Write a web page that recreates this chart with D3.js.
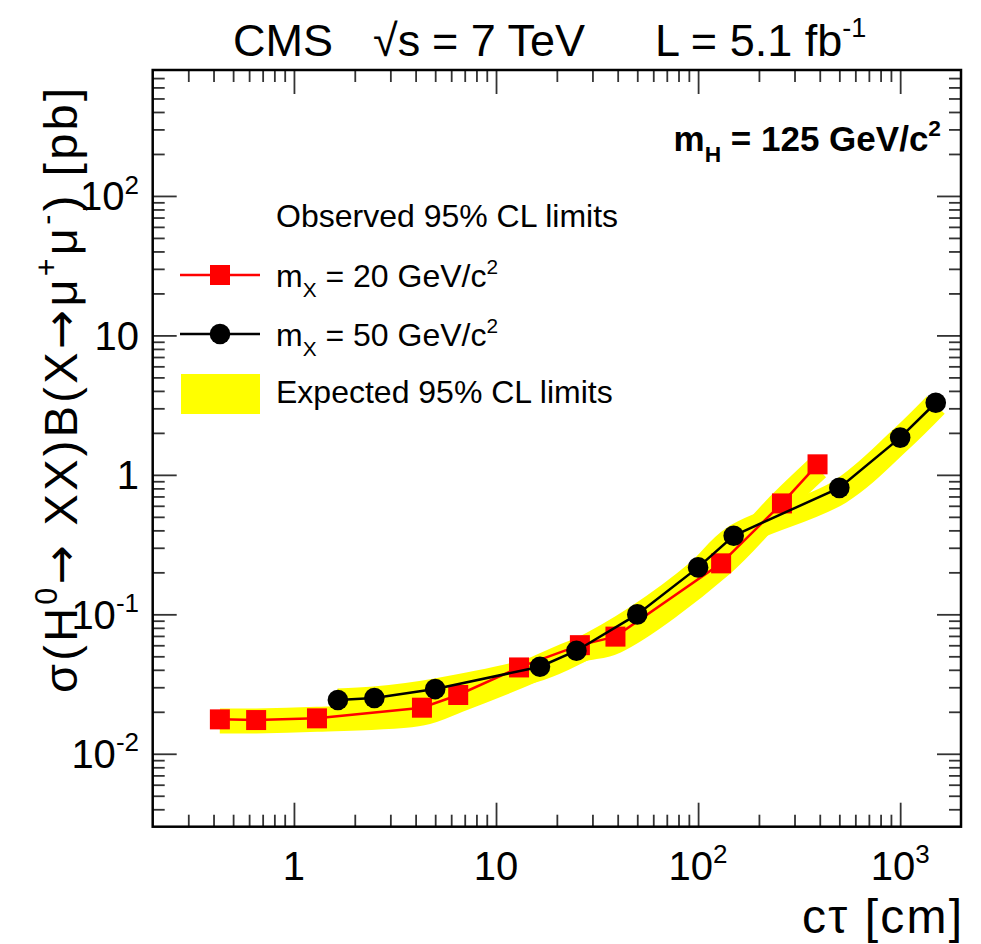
<!DOCTYPE html>
<html>
<head>
<meta charset="utf-8">
<script src="https://cdn.jsdelivr.net/npm/d3@7"></script>
<style>
body{margin:0;background:#fff}
text{font-family:"Liberation Sans",Arial,Helvetica,sans-serif;fill:#000;white-space:pre}
</style>
</head>
<body>
<svg width="981" height="944"></svg>
<script>
// m_X = 20 GeV
let ctau20 = [0.43, 0.65, 1.3, 4.3, 6.5, 13, 26, 39, 130, 260, 390];
let obs20  = [0.01765, 0.01745, 0.01795, 0.0214, 0.0264, 0.0416, 0.0601, 0.0692, 0.232, 0.624, 1.19];
let exp20  = [0.0172, 0.0172, 0.0177, 0.0196, 0.0243, 0.0361, 0.0554, 0.0643, 0.2255, 0.638, 1.118];

// m_X = 50 GeV
let ctau50 = [1.65, 2.5, 5, 16.5, 25, 50, 100, 150, 500, 1000, 1500];
let obs50  = [0.0243, 0.0251, 0.0291, 0.0421, 0.0548, 0.0999, 0.217, 0.366, 0.807, 1.85, 3.29];
let exp50  = [0.0239, 0.0247, 0.0282, 0.0412, 0.0536, 0.0955, 0.201, 0.352, 0.753, 1.776, 3.166];

let xTicks = [1, 10, 100, 1000];
let xTickLabels = [["1",""], ["10",""], ["10","2"], ["10","3"]];
let yTicks = [0.01, 0.1, 1, 10, 100];
let yTickLabels = [["10","-2"], ["10","-1"], ["1",""], ["10",""], ["10","2"]];

let fLeft=152.7, fRight=961, fTop=70, fBottom=826.7;

let svg = d3.select("svg");

let x = d3.scaleLog().domain([0.2, 2000]).range([fLeft, fRight]);
let y = d3.scaleLog().domain([0.003, 800]).range([fBottom, fTop]);

function minors(dom, majors){
    let out=[];
    for(let e=-3; e<=3; e++){
        for(let k=1; k<10; k++){
            let v = k*Math.pow(10,e);
            if(v>dom[0]*1.0001 && v<dom[1]*0.9999 && !majors.some(m=>Math.abs(m-v)/m<1e-6)) out.push(v);
        }
    }
    return out;
}
let xMinor = minors(x.domain(), xTicks);
let yMinor = minors(y.domain(), yTicks);

function tickAxis(axis, vals, size, tr){
    let g = svg.append("g").attr("transform", tr)
        .call(axis.tickValues(vals).tickSize(size).tickFormat(""));
    g.select(".domain").remove();
    g.selectAll(".tick line").attr("stroke", "#333").attr("stroke-width", 1.8);
}

// expected bands
let lineGen = d3.line().curve(d3.curveCatmullRom.alpha(0.5));
function band(cx, cy){
    svg.append("path")
        .attr("d", lineGen(cx.map((c,i)=>[x(c), y(cy[i])])))
        .attr("fill", "none")
        .attr("stroke", "#ffff00")
        .attr("stroke-width", 25)
        .attr("stroke-linejoin", "round");
}
band(ctau20, exp20);
band(ctau50, exp50);

// ticks, all inside the frame
tickAxis(d3.axisBottom(x), xMinor, -12, `translate(0,${fBottom})`);
tickAxis(d3.axisBottom(x), xTicks, -24, `translate(0,${fBottom})`);
tickAxis(d3.axisTop(x), xMinor, -12, `translate(0,${fTop})`);
tickAxis(d3.axisTop(x), xTicks, -24, `translate(0,${fTop})`);
tickAxis(d3.axisLeft(y), yMinor, -12, `translate(${fLeft},0)`);
tickAxis(d3.axisLeft(y), yTicks, -24, `translate(${fLeft},0)`);
tickAxis(d3.axisRight(y), yMinor, -12, `translate(${fRight},0)`);
tickAxis(d3.axisRight(y), yTicks, -24, `translate(${fRight},0)`);

svg.append("rect")
    .attr("x", fLeft).attr("y", fTop)
    .attr("width", fRight-fLeft).attr("height", fBottom-fTop)
    .attr("fill", "none").attr("stroke", "#000").attr("stroke-width", 2.5);

// observed lines + markers
let straight = d3.line();
svg.append("path")
    .attr("d", straight(ctau20.map((c,i)=>[x(c), y(obs20[i])])))
    .attr("fill", "none").attr("stroke", "#ff0000").attr("stroke-width", 2.5);
svg.append("g").selectAll("rect").data(ctau20.map((c,i)=>({c:c, v:obs20[i]})))
    .join("rect")
    .attr("x", d=>x(d.c)-10).attr("y", d=>y(d.v)-10)
    .attr("width", 20).attr("height", 20)
    .attr("fill", "#ff0000");

svg.append("path")
    .attr("d", straight(ctau50.map((c,i)=>[x(c), y(obs50[i])])))
    .attr("fill", "none").attr("stroke", "#000").attr("stroke-width", 2.5);
svg.append("g").selectAll("circle").data(ctau50.map((c,i)=>({c:c, v:obs50[i]})))
    .join("circle")
    .attr("cx", d=>x(d.c)).attr("cy", d=>y(d.v))
    .attr("r", 10.3)
    .attr("fill", "#000");

// text with sub/superscripts
function rich(sel, parts, fs, supScale){
    let sc = supScale || 0.7;
    let shift=0;
    parts.forEach(p=>{
        let target = p.sub ? fs*0.3 : (p.sup ? -fs*0.42 : 0);
        let ts = sel.append("tspan")
            .attr("dy", target-shift)
            .attr("font-size", (p.sub||p.sup) ? fs*sc : fs)
            .text(p.t);
        if(p.font) ts.style("font-family", p.font);
        shift=target;
    });
}

// tick labels
let tfs = 40;
xTicks.forEach((v,i)=>{
    let t = svg.append("text").attr("x", x(v)).attr("y", 880)
        .attr("text-anchor", "middle").attr("font-size", tfs);
    let parts=[{t:xTickLabels[i][0]}];
    if(xTickLabels[i][1]) parts.push({t:xTickLabels[i][1], sup:true});
    rich(t, parts, tfs, 0.65);
});
yTicks.forEach((v,i)=>{
    let t = svg.append("text").attr("x", 139).attr("y", y(v)+14.5)
        .attr("text-anchor", "end").attr("font-size", tfs);
    let parts=[{t:yTickLabels[i][0]}];
    if(yTickLabels[i][1]) parts.push({t:yTickLabels[i][1], sup:true});
    rich(t, parts, tfs, 0.65);
});

// axis titles
svg.append("text").attr("x", 962).attr("y", 933)
    .attr("text-anchor", "end").attr("font-size", 48)
    .attr("textLength", 160).attr("lengthAdjust", "spacing").text("cτ [cm]");

let yt = svg.append("text")
    .attr("transform", "translate(77,88) rotate(-90)")
    .attr("text-anchor", "end").attr("font-size", 47)
    .attr("textLength", 605).attr("lengthAdjust", "spacing");
rich(yt, [{t:"σ(H"},{t:"0",sup:true},{t:"→",font:"DejaVu Sans"},{t:" XX)B(X"},{t:"→",font:"DejaVu Sans"},{t:"μ"},{t:"+",sup:true},{t:"μ"},{t:"-",sup:true},{t:") [pb]"}], 47, 0.65);

// title
svg.append("text").attr("x", 233).attr("y", 56).attr("font-size", 45).text("CMS");
svg.append("text").attr("x", 373).attr("y", 56).attr("font-size", 45).text("√s");
svg.append("text").attr("x", 432).attr("y", 56).attr("font-size", 45).text("= 7 TeV");
let lt = svg.append("text").attr("x", 655).attr("y", 56).attr("font-size", 45);
rich(lt, [{t:"L = 5.1 fb"},{t:"-1",sup:true}], 45, 0.6);

// mH label
let mh = svg.append("text").attr("x", 941).attr("y", 151)
    .attr("text-anchor", "end").attr("font-size", 35).attr("font-weight", "bold");
rich(mh, [{t:"m"},{t:"H",sub:true},{t:" = 125 GeV/c"},{t:"2",sup:true}], 35, 0.65);

// legend
let lfs = 32;
svg.append("text").attr("x", 276).attr("y", 227).attr("font-size", lfs).text("Observed 95% CL limits");

svg.append("line").attr("x1", 180).attr("x2", 260).attr("y1", 275).attr("y2", 275)
    .attr("stroke", "#ff0000").attr("stroke-width", 2.5);
svg.append("rect").attr("x", 210).attr("y", 265).attr("width", 20).attr("height", 20).attr("fill", "#ff0000");
let l1 = svg.append("text").attr("x", 276).attr("y", 287).attr("font-size", lfs);
rich(l1, [{t:"m"},{t:"X",sub:true},{t:" = 20 GeV/c"},{t:"2",sup:true}], lfs, 0.65);

svg.append("line").attr("x1", 180).attr("x2", 260).attr("y1", 334).attr("y2", 334)
    .attr("stroke", "#000").attr("stroke-width", 2.5);
svg.append("circle").attr("cx", 220).attr("cy", 334).attr("r", 10.3).attr("fill", "#000");
let l2 = svg.append("text").attr("x", 276).attr("y", 346).attr("font-size", lfs);
rich(l2, [{t:"m"},{t:"X",sub:true},{t:" = 50 GeV/c"},{t:"2",sup:true}], lfs, 0.65);

svg.append("rect").attr("x", 181).attr("y", 374).attr("width", 79).attr("height", 40).attr("fill", "#ffff00");
svg.append("text").attr("x", 276).attr("y", 403).attr("font-size", lfs).text("Expected 95% CL limits");
</script>
</body>
</html>
